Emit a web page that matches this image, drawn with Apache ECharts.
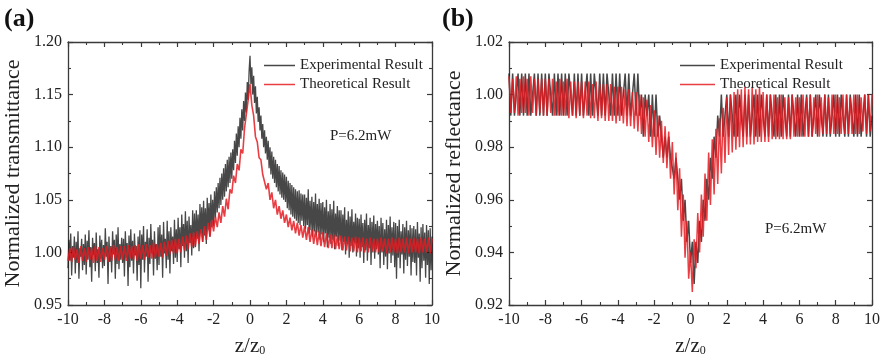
<!DOCTYPE html>
<html>
<head>
<meta charset="utf-8">
<script src="https://cdn.jsdelivr.net/npm/echarts@6/dist/echarts.min.js"></script>
<style>html,body{margin:0;padding:0;background:#fff}#c{width:881px;height:354px}</style>
</head>
<body>
<div id="c"></div>
<script>
// Each series is sampled evenly over z/z0 = -10 .. 10
const zMin = -10, zMax = 10;
const xTicks = [-10, -8, -6, -4, -2, 0, 2, 4, 6, 8, 10];
const seriesNames = ['Experimental Result', 'Theoretical Result'];

// (a) Normalized transmittance — experimental (401 samples, one row per unit of z)
const transExp = [
0.985,1.012,0.992,1.018,0.978,1.006,0.995,1.015,0.980,1.010,0.990,1.020,0.975,1.004,0.996,1.013,0.983,1.008,0.988,1.017,
0.979,1.011,0.993,1.021,0.986,1.005,0.972,1.014,0.997,1.009,0.982,1.019,0.990,1.003,0.976,1.016,0.994,1.012,0.985,1.007,
0.987,1.023,0.996,1.010,0.970,1.015,0.991,1.006,0.981,1.020,0.998,1.012,0.975,1.017,0.989,1.024,0.984,1.008,0.993,1.014,
0.990,1.013,0.977,1.020,0.995,1.009,0.968,1.016,0.986,1.022,0.992,1.011,0.980,1.018,0.997,1.006,0.973,1.015,0.988,1.021,
0.966,1.017,0.993,1.025,0.981,1.010,0.996,1.022,0.972,1.014,0.989,1.027,0.999,1.012,0.978,1.020,0.994,1.008,0.983,1.024,
0.988,1.026,0.996,1.017,0.976,1.029,0.999,1.013,0.985,1.030,0.993,1.020,0.980,1.024,1.001,1.015,0.989,1.031,0.995,1.022,
0.991,1.033,1.003,1.024,0.986,1.036,1.006,1.027,0.995,1.039,1.001,1.030,0.990,1.034,1.009,1.026,0.997,1.040,1.004,1.037,
1.005,1.040,1.013,1.036,1.001,1.046,1.018,1.043,1.010,1.049,1.016,1.042,1.008,1.052,1.022,1.047,1.015,1.055,1.024,1.050,
1.025,1.058,1.033,1.062,1.038,1.066,1.042,1.071,1.045,1.075,1.050,1.080,1.053,1.084,1.058,1.088,1.062,1.091,1.066,1.095,
1.070,1.098,1.078,1.106,1.085,1.113,1.092,1.120,1.100,1.128,1.108,1.136,1.116,1.144,1.125,1.152,1.133,1.162,1.145,1.172,
1.187,1.160,1.176,1.150,1.168,1.142,1.158,1.132,1.148,1.124,1.138,1.116,1.130,1.108,1.122,1.100,1.116,1.094,1.110,1.088,
1.106,1.080,1.100,1.074,1.096,1.070,1.091,1.066,1.088,1.062,1.084,1.058,1.082,1.055,1.078,1.052,1.076,1.050,1.074,1.048,
1.072,1.042,1.068,1.040,1.066,1.036,1.064,1.034,1.062,1.032,1.060,1.030,1.058,1.028,1.059,1.026,1.056,1.030,1.055,1.025,
1.055,1.022,1.052,1.026,1.060,1.018,1.049,1.021,1.053,1.015,1.048,1.020,1.056,1.016,1.046,1.019,1.051,1.012,1.047,1.017,
1.048,1.010,1.043,1.018,1.050,1.005,1.039,1.014,1.046,1.008,1.041,1.012,1.049,1.003,1.037,1.015,1.044,1.006,1.040,1.011,
1.040,1.002,1.036,1.010,1.043,0.998,1.031,1.008,1.039,0.995,1.034,1.006,1.041,1.000,1.029,1.009,1.037,0.996,1.033,1.004,
1.032,0.995,1.036,1.005,1.028,0.990,1.031,1.002,1.037,0.992,1.026,1.004,1.033,0.988,1.029,1.000,1.035,0.994,1.027,1.003,
1.030,0.998,1.025,0.985,1.033,1.000,1.028,0.988,1.022,0.996,1.031,0.984,1.026,0.999,1.034,0.990,1.024,0.997,1.029,0.986,
1.028,0.975,1.025,0.995,1.031,0.985,1.020,0.998,1.027,0.980,1.024,0.993,1.030,0.987,1.021,0.996,1.026,0.978,1.023,0.991,
1.025,0.990,1.022,0.978,1.029,0.995,1.018,0.972,1.024,0.985,1.027,0.992,1.019,0.976,1.026,0.988,1.021,0.970,1.023,0.983,
1.015];

// (a) Normalized transmittance — theoretical (201 samples)
const transTheo = [
0.992,1.004,0.991,1.005,0.993,1.003,0.990,1.006,0.992,1.004,
0.991,1.005,0.993,1.004,0.990,1.006,0.992,1.005,0.991,1.004,
0.993,1.006,0.991,1.005,0.992,1.007,0.993,1.005,0.992,1.006,
0.993,1.006,0.992,1.007,0.994,1.006,0.993,1.007,0.992,1.008,
0.994,1.007,0.993,1.008,0.995,1.007,0.994,1.009,0.995,1.008,
0.996,1.009,0.995,1.010,0.997,1.011,0.998,1.012,0.999,1.013,
0.999,1.013,1.000,1.015,1.002,1.016,1.003,1.018,1.005,1.019,
1.006,1.020,1.008,1.022,1.010,1.025,1.012,1.028,1.015,1.031,
1.020,1.034,1.024,1.038,1.028,1.044,1.034,1.051,1.041,1.060,
1.056,1.073,1.066,1.084,1.078,1.098,1.094,1.118,1.118,1.145,
1.160,1.140,1.130,1.110,1.105,1.090,1.088,1.074,1.074,1.060,
1.066,1.050,1.057,1.042,1.050,1.036,1.044,1.032,1.040,1.028,
1.036,1.024,1.033,1.021,1.030,1.018,1.028,1.016,1.026,1.014,
1.025,1.012,1.024,1.010,1.022,1.008,1.021,1.007,1.020,1.006,
1.019,1.005,1.018,1.004,1.017,1.004,1.017,1.003,1.016,1.003,
1.016,1.002,1.015,1.002,1.015,1.001,1.014,1.001,1.015,1.000,
1.014,1.001,1.014,1.000,1.013,1.000,1.014,1.001,1.013,1.000,
1.013,1.000,1.014,1.001,1.013,0.999,1.013,1.000,1.014,1.000,
1.013,0.999,1.014,1.000,1.013,1.000,1.014,0.999,1.013,1.000,
1.014,1.000,1.013,0.999,1.014,1.000,1.013,1.000,1.014,0.999,
1.013];

// (b) Normalized reflectance — experimental (201 samples, quantised in steps of 0.008)
const reflExp = [
1.008,0.992,1.008,0.992,1.000,1.008,0.992,1.008,0.992,1.008,
0.992,1.008,0.992,1.000,1.008,0.992,1.008,0.992,1.008,0.992,
1.008,0.992,1.008,1.000,0.992,1.008,0.992,1.008,0.992,1.008,
0.992,1.008,0.992,1.008,1.000,0.992,1.008,0.992,1.008,0.992,
1.008,0.992,1.000,1.008,0.992,1.008,0.992,1.008,1.000,0.992,
1.008,0.992,1.008,0.992,1.008,1.000,0.992,1.008,0.992,1.008,
0.992,1.008,0.992,1.000,1.008,0.992,1.008,0.992,1.000,1.008,
0.992,1.008,0.992,1.000,0.984,1.000,0.992,1.000,0.984,1.000,
0.984,1.000,0.984,0.992,0.984,0.976,0.984,0.976,0.984,0.976,
0.976,0.968,0.976,0.968,0.960,0.968,0.952,0.960,0.944,0.952,
0.936,0.944,0.928,0.944,0.936,0.952,0.944,0.960,0.952,0.968,
0.960,0.976,0.968,0.984,0.976,0.992,0.984,1.000,0.984,0.992,
1.000,0.984,1.000,0.992,0.984,1.000,0.984,1.000,0.992,0.984,
1.000,0.984,1.000,0.984,0.992,1.000,0.984,1.000,0.984,1.000,
0.992,0.984,1.000,0.984,1.000,0.992,0.984,1.000,0.984,1.000,
0.984,1.000,0.992,0.984,1.000,0.984,1.000,0.992,0.984,1.000,
0.984,1.000,0.984,0.992,1.000,0.984,1.000,0.984,0.992,1.000,
0.984,1.000,0.992,0.984,1.000,0.984,1.000,0.984,0.992,1.000,
0.984,1.000,0.984,1.000,0.992,0.984,1.000,0.984,1.000,0.992,
0.984,1.000,0.984,1.000,0.984,0.992,1.000,0.984,1.000,0.984,
0.992];

// (b) Normalized reflectance — theoretical (201 samples)
const reflTheo = [
1.007,0.993,1.006,0.993,1.007,0.992,1.006,0.993,1.007,0.993,
1.006,0.992,1.007,0.993,1.006,0.992,1.006,0.993,1.006,0.992,
1.006,0.992,1.006,0.993,1.006,0.992,1.005,0.992,1.006,0.992,
1.005,0.992,1.006,0.991,1.005,0.992,1.005,0.991,1.005,0.992,
1.005,0.991,1.005,0.992,1.005,0.991,1.004,0.991,1.005,0.990,
1.004,0.991,1.004,0.990,1.004,0.990,1.004,0.990,1.003,0.989,
1.003,0.990,1.003,0.989,1.002,0.988,1.002,0.988,1.001,0.987,
1.001,0.986,1.000,0.985,0.999,0.984,0.998,0.982,0.996,0.980,
0.994,0.977,0.992,0.976,0.990,0.974,0.988,0.972,0.986,0.968,
0.982,0.962,0.978,0.956,0.972,0.946,0.962,0.938,0.952,0.930,
0.940,0.925,0.945,0.934,0.955,0.940,0.962,0.946,0.970,0.952,
0.978,0.958,0.983,0.962,0.987,0.966,0.991,0.970,0.995,0.974,
0.999,0.977,1.000,0.978,1.001,0.979,1.002,0.980,1.002,0.980,
1.003,0.981,1.002,0.981,1.003,0.981,1.002,0.982,1.003,0.982,
1.001,0.982,1.000,0.982,1.000,0.983,1.000,0.983,0.999,0.983,
1.000,0.983,0.999,0.983,0.999,0.983,1.000,0.984,0.999,0.984,
0.999,0.984,1.000,0.984,0.999,0.984,1.000,0.984,0.999,0.985,
1.000,0.984,0.999,0.985,1.000,0.985,0.999,0.985,1.000,0.985,
1.000,0.985,0.999,0.985,1.000,0.985,1.000,0.985,0.999,0.985,
1.000,0.985,1.000,0.985,0.999,0.986,1.000,0.985,1.000,0.986,
1.000];

function pairs(vals) {
  const n = vals.length - 1;
  return vals.map((v, i) => [zMin + (zMax - zMin) * i / n, v]);
}

const FONT = '"Liberation Serif","Times New Roman",serif';
const AX = '#3a3a3a';
const BLACK = 'rgba(25,25,25,0.8)';
const RED = 'rgba(228,28,34,0.85)';

function xAx(grid, top) {
  return {
    type: 'value', gridIndex: grid, position: top ? 'top' : 'bottom',
    min: zMin, max: zMax, interval: 2,
    axisLine: {show: true, onZero: false, lineStyle: {color: AX, width: 1.3}},
    axisTick: {show: true, inside: true, length: 5, lineStyle: {color: AX, width: 1.2}},
    minorTick: {show: true, splitNumber: 2, length: 3, lineStyle: {color: AX, width: 1.1}},
    splitLine: {show: false},
    axisLabel: {show: !top, fontFamily: FONT, fontSize: 16, color: '#222', margin: 7},
    name: top ? '' : '{a|z/z}{b|0}',
    nameLocation: 'middle', nameGap: 31,
    nameTextStyle: {rich: {
      a: {fontFamily: FONT, fontSize: 21, color: '#222'},
      b: {fontFamily: FONT, fontSize: 12, color: '#222', padding: [8, 0, 0, 0]}
    }}
  };
}
function yAx(grid, right, min, max, interval, name) {
  return {
    type: 'value', gridIndex: grid, position: right ? 'right' : 'left',
    min: min, max: max, interval: interval,
    axisLine: {show: true, onZero: false, lineStyle: {color: AX, width: 1.3}},
    axisTick: {show: true, inside: true, length: 5, lineStyle: {color: AX, width: 1.2}},
    minorTick: {show: true, splitNumber: 2, length: 3, lineStyle: {color: AX, width: 1.1}},
    splitLine: {show: false},
    axisLabel: {show: !right, fontFamily: FONT, fontSize: 16, color: '#222', margin: 6,
      formatter: v => v.toFixed(2)},
    name: right ? '' : name,
    nameLocation: 'middle', nameGap: 44,
    nameTextStyle: {fontFamily: FONT, fontSize: 22, color: '#222'}
  };
}
function line(name, data, xi, yi, color, w) {
  return {
    type: 'line', name: name, data: pairs(data), xAxisIndex: xi, yAxisIndex: yi,
    showSymbol: false, symbol: 'none', animation: false,
    lineStyle: {color: color, width: w}, itemStyle: {color: color}
  };
}

const chart = echarts.init(document.getElementById('c'), null, {renderer: 'canvas'});
chart.setOption({
  animation: false,
  backgroundColor: '#fff',
  grid: [
    {left: 68, top: 42, width: 364, height: 263, outerBoundsMode: 'none', containLabel: false},
    {left: 509, top: 42, width: 363, height: 263, outerBoundsMode: 'none', containLabel: false}
  ],
  xAxis: [xAx(0, false), xAx(0, true), xAx(1, false), xAx(1, true)],
  yAxis: [
    yAx(0, false, 0.95, 1.20, 0.05, 'Normalized transmittance'),
    yAx(0, true, 0.95, 1.20, 0.05, ''),
    yAx(1, false, 0.92, 1.02, 0.02, 'Normalized reflectance'),
    yAx(1, true, 0.92, 1.02, 0.02, '')
  ],
  legend: [
    {left: 259, top: 53, orient: 'vertical', itemWidth: 31, itemHeight: 1.5, itemGap: 4,
     icon: 'rect', data: seriesNames, selectedMode: false,
     textStyle: {fontFamily: FONT, fontSize: 15, color: '#222'}},
    {left: 675, top: 53, orient: 'vertical', itemWidth: 35, itemHeight: 1.5, itemGap: 4,
     icon: 'rect', data: seriesNames, selectedMode: false,
     textStyle: {fontFamily: FONT, fontSize: 15, color: '#222'}}
  ],
  series: [
    line(seriesNames[0], transExp, 0, 0, BLACK, 1.3),
    line(seriesNames[1], transTheo, 0, 0, RED, 1.6),
    line(seriesNames[0], reflExp, 2, 2, BLACK, 1.5),
    line(seriesNames[1], reflTheo, 2, 2, RED, 1.5)
  ],
  graphic: [
    {type: 'text', left: 4, top: 6, style: {text: '(a)', font: 'bold 26px ' + FONT, fill: '#111'}},
    {type: 'text', left: 442, top: 6, style: {text: '(b)', font: 'bold 26px ' + FONT, fill: '#111'}},
    {type: 'text', left: 330, top: 129, style: {text: 'P=6.2mW', font: '15px ' + FONT, fill: '#222'}},
    {type: 'text', left: 765, top: 222, style: {text: 'P=6.2mW', font: '15px ' + FONT, fill: '#222'}}
  ]
});
</script>
</body>
</html>
